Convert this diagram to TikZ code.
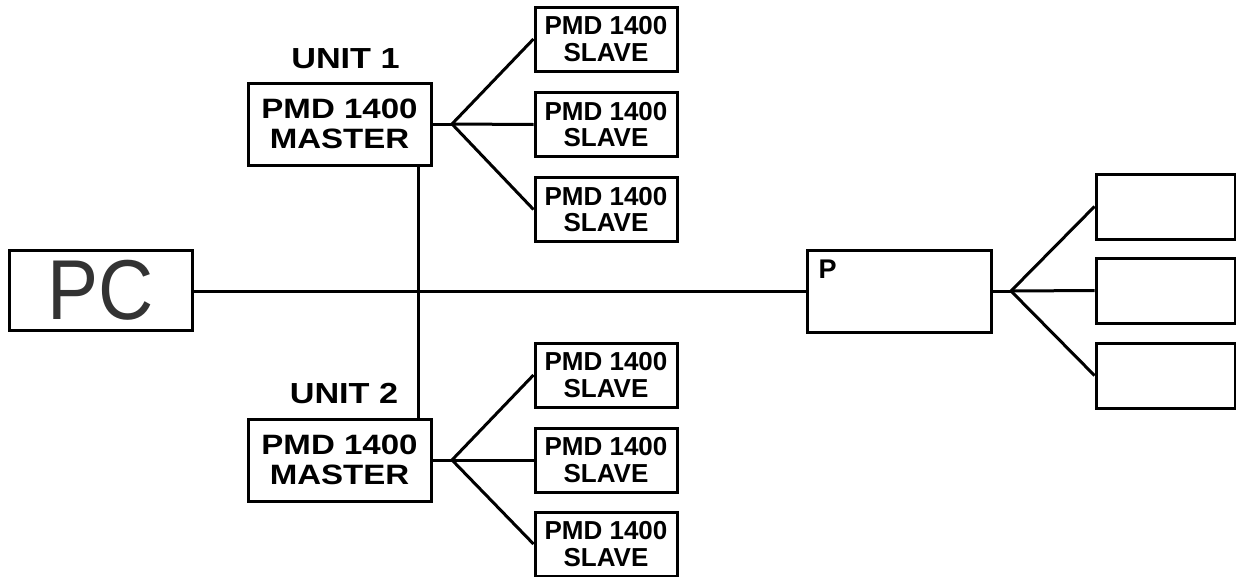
\documentclass[tikz,border=0pt]{standalone}
\usepackage{fontspec}
\setmainfont{Liberation Sans}
\newfontfamily\widefont[FakeStretch=1.18]{Liberation Sans}
\newfontfamily\pcfont[FakeStretch=0.9]{Liberation Sans}
\begin{document}
\begin{tikzpicture}[x=1pt, y=-1pt, line width=3pt,
  box/.style={draw, line width=3pt, inner sep=0pt, align=center},
  masterbox/.style={box, minimum width=183pt, minimum height=82pt,
    font=\widefont\bfseries\fontsize{28}{30}\selectfont},
  slavebox/.style={box, minimum width=142pt, minimum height=64pt,
    font=\bfseries\fontsize{26}{26.5}\selectfont},
  emptybox/.style={box, minimum width=139pt, minimum height=65pt},
  unitlabel/.style={font=\widefont\bfseries\fontsize{29}{30}\selectfont, inner sep=0pt}]

\useasboundingbox (0,0) rectangle (1236,576);

% --- PC y bus ---
\node[box, minimum width=183pt, minimum height=80pt, text=black!80,
  font=\pcfont\fontsize{85}{85}\selectfont] (pc) at (100.5,290) {PC};
\node[box, minimum width=184pt, minimum height=82pt] (p) at (899,291) {};
\node[anchor=base west, inner sep=0pt, font=\bfseries\fontsize{27}{28}\selectfont]
  (plabel) at (817,278) {P};
\coordinate (bus) at (418,291);
\draw (pc.east |- bus) -- (p.west |- bus);

% --- unidades maestras ---
\node[masterbox] (master1) at (339.5,124) {PMD 1400\\MASTER};
\node[masterbox] (master2) at (339.5,460) {PMD 1400\\MASTER};
\node[unitlabel] (unit1) at (345.5,59) {UNIT 1};
\node[unitlabel] (unit2) at (344,394) {UNIT 2};
\draw (master1.south -| bus) -- (master2.north -| bus);

% --- esclavas ---
\foreach \n/\y in {s1/39, s2/124.5, s3/209.5, s4/375, s5/460, s6/544}
  \node[slavebox] (\n) at (606,\y) {PMD 1400\\SLAVE};
\coordinate (fork1) at (452,124);
\coordinate (fork2) at (452,460);
\draw (master1.east) -- (fork1);
\draw (master2.east) -- (fork2);
\foreach \n in {s1,s2,s3}
  \draw (fork1) -- (\n.west);
\foreach \n in {s4,s5,s6}
  \draw (fork2) -- (\n.west);

% --- cajas vacias a la derecha ---
\foreach \n/\y in {r1/206.5, r2/290.5, r3/375.5}
  \node[emptybox] (\n) at (1165.5,\y) {};
\coordinate (fork3) at (1011,291);
\draw (p.east) -- (fork3);
\foreach \n in {r1,r2,r3}
  \draw (fork3) -- (\n.west);

\end{tikzpicture}
\end{document}
